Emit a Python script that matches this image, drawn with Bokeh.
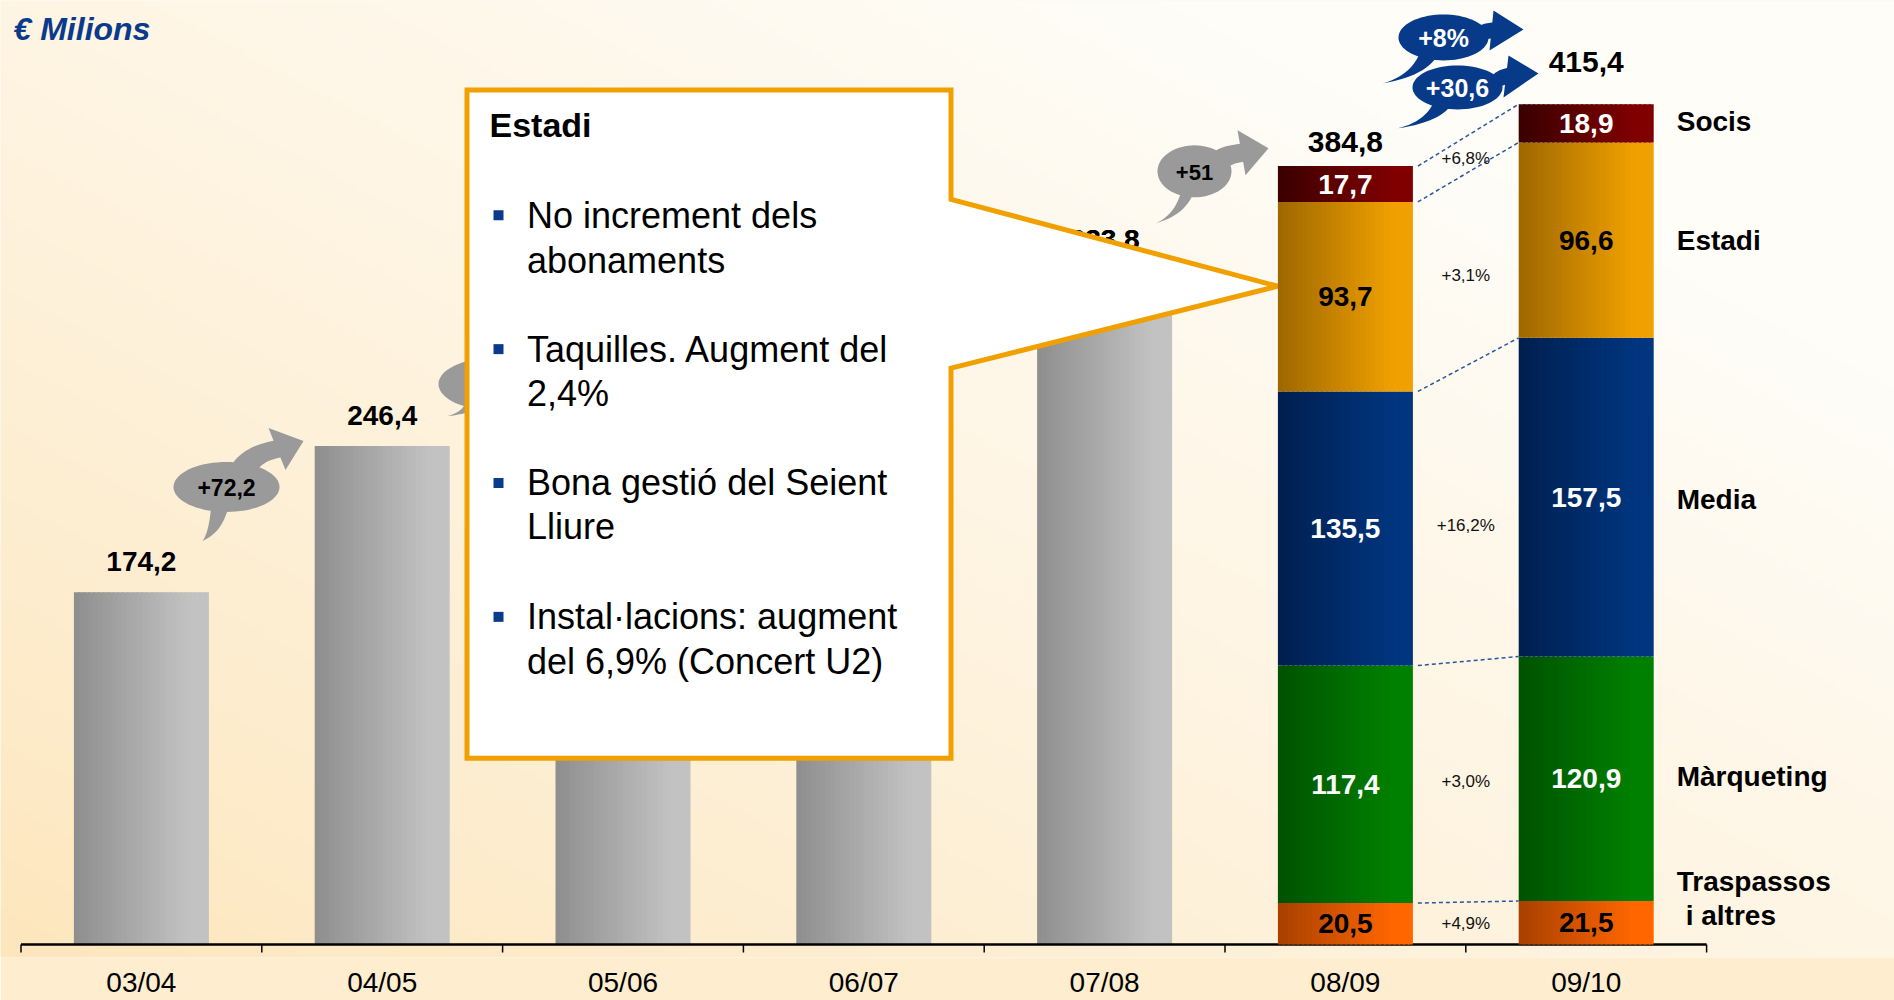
import numpy as np
from bokeh.plotting import figure
from bokeh.models import FixedTicker
from bokeh.core.properties import value
from bokeh.embed import file_html
from bokeh.resources import INLINE

# ---------------- data ----------------
seasons = ["03/04", "04/05", "05/06", "06/07", "07/08", "08/09", "09/10"]
totals = [174.2, 246.4, 291.2, 312.3, 333.8, 384.8, 415.4]
total_labels = ["174,2", "246,4", "", "", "333,8", "384,8", "415,4"]

components = ["Traspassos i altres", "Màrqueting", "Media", "Estadi", "Socis"]
comp_0809 = [20.5, 117.4, 135.5, 93.7, 17.7]
comp_0910 = [21.5, 120.9, 157.5, 96.6, 18.9]
comp_0809_labels = ["20,5", "117,4", "135,5", "93,7", "17,7"]
comp_0910_labels = ["21,5", "120,9", "157,5", "96,6", "18,9"]
comp_growth = ["+4,9%", "+3,0%", "+16,2%", "+3,1%", "+6,8%"]

bubble_labels = ["+72,2", "", "+51", "+8%", "+30,6"]

box_title = "Estadi"
box_bullets = [["No increment dels", "abonaments"],
               ["Taquilles. Augment del", "2,4%"],
               ["Bona gestió del Seient", "Lliure"],
               ["Instal·lacions: augment", "del 6,9% (Concert U2)"]]
unit_title = "€ Milions"

# ---------------- layout helpers (reference pixels -> data) ----------------
X0, SX = 20.5, 240.8      # pixel of x=0, pixels per category
Y0, SY = 945.0, 2.025     # pixel of y=0, pixels per million
W, H = 1894, 1000
FRAME_BOTTOM = 958


def ux(px):
    return (px - X0) / SX


def uy(py):
    return (Y0 - py) / SY


XS, XE = ux(0), ux(W)
YS, YE = uy(FRAME_BOTTOM), uy(0)
BW = 135.0 / SX

FONT = value("Liberation Sans")

p = figure(width=W, height=H, x_range=(XS, XE), y_range=(YS, YE),
           output_backend="svg", toolbar_location=None, y_axis_location=None,
           min_border_left=0, min_border_right=0, min_border_top=0,
           min_border_bottom=H - FRAME_BOTTOM)
p.xgrid.visible = False
p.ygrid.visible = False
p.outline_line_color = None
p.border_fill_color = "#feedcf"
p.background_fill_color = "#fef5e6"

# ---------------- background gradient ----------------
GH, GW = 160, 320
yy = np.linspace(FRAME_BOTTOM, 0, GH)
xx = np.linspace(0, W, GW)
PX, PY = np.meshgrid(xx, yy)
s = np.clip(0.62 * (PX / 1894.0) + 0.62 * (1 - PY / 1000.0), 0, 1) ** 0.85
c0 = np.array([253, 229, 186], dtype=float)
c1 = np.array([255, 253, 248], dtype=float)
rgb = c0 + (c1 - c0) * s[..., None]
img = np.empty((GH, GW), dtype=np.uint32)
view = img.view(dtype=np.uint8).reshape((GH, GW, 4))
view[..., 0:3] = rgb.astype(np.uint8)
view[..., 3] = 255
p.image_rgba(image=[img], x=XS, y=YS, dw=XE - XS, dh=YE - YS)


# ---------------- gradient bars ----------------
def h2r(h):
    return np.array([int(h[i:i + 2], 16) for i in (1, 3, 5)], dtype=float)


def mixc(a, b, f):
    c = h2r(a) + (h2r(b) - h2r(a)) * f
    return "#%02x%02x%02x" % tuple(int(round(v)) for v in c)


def grad_strips(store, xc, b, t, ca, cb, n=28):
    for k in range(n):
        l = xc - BW / 2 + BW * k / n
        r = xc - BW / 2 + BW * (k + 1.35) / n if k < n - 1 else xc + BW / 2
        f = min(1.0, (k + 0.5) / n / 0.85)
        store["left"].append(l)
        store["right"].append(r)
        store["bottom"].append(b)
        store["top"].append(t)
        store["color"].append(mixc(ca, cb, f))


gray = dict(left=[], right=[], bottom=[], top=[], color=[])
for i in range(5):
    grad_strips(gray, i + 0.5, 0, totals[i], "#8e8e8e", "#c2c2c2")
p.quad(left="left", right="right", bottom="bottom", top="top", color="color",
       line_color=None, source=gray)

# axis line and tick marks (between categories)
n_b = len(seasons) + 1
p.segment(x0=[0], y0=[0], x1=[len(seasons)], y1=[0], line_color="black", line_width=2.5)
p.segment(x0=list(range(n_b)), y0=[0] * n_b, x1=list(range(n_b)), y1=[uy(953)] * n_b,
          line_color="black", line_width=1.5)

# total labels (offset in screen px above bar top, to label centre)
gap = [-31, -31, -31, -31, -30, -24, -42]
for i in range(5):
    if total_labels[i]:
        p.text(x=[i + 0.5], y=[totals[i]], text=[total_labels[i]], y_offset=gap[i],
               text_align="center", text_baseline="middle", text_font=FONT,
               text_font_style="bold", text_font_size="28px", text_color="black")


# ---------------- bubbles with arrows ----------------
def ell_pt(cx, cy, w, h, a, k=1.0):
    r = np.radians(a)
    return np.array([cx + k * w / 2 * np.cos(r), cy + k * h / 2 * np.sin(r)])


def qcurve(p0, c, p1, n=14):
    t = np.linspace(0, 1, n)[:, None]
    return (1 - t) ** 2 * p0 + 2 * (1 - t) * t * c + t ** 2 * p1


def bubble_polys(spec):
    cx, cy = spec["c"]
    w, h = spec["w"], spec["h"]
    polys = []
    ang = np.linspace(0, 360, 73)
    polys.append(np.array([ell_pt(cx, cy, w, h, a) for a in ang]))
    a1, a2, tt = spec["tail"]
    B1 = ell_pt(cx, cy, w, h, a1, 0.85)
    B2 = ell_pt(cx, cy, w, h, a2, 0.85)
    T = np.array([cx + tt[0], cy + tt[1]])
    C1 = 0.5 * (0.5 * (B1 + T)) + 0.5 * np.array([B1[0], T[1]])
    C2 = 0.5 * (0.5 * (B2 + T)) + 0.5 * np.array([B2[0], T[1]])
    polys.append(np.vstack([qcurve(B1, C1, T), qcurve(T, C2, B2)]))
    ht, tip, hb = [np.array([cx + q[0], cy + q[1]]) for q in spec["head"]]
    b1, b2 = spec["body"]
    S1 = ell_pt(cx, cy, w, h, b1, 0.85)
    S2 = ell_pt(cx, cy, w, h, b2, 0.85)
    E1 = ht + 0.3 * (hb - ht)
    E2 = ht + 0.7 * (hb - ht)
    D1 = 0.5 * (0.5 * (S1 + E1)) + 0.5 * np.array([S1[0], E1[1]])
    D2 = 0.5 * (0.5 * (S2 + E2)) + 0.5 * np.array([S2[0], E2[1]])
    polys.append(np.vstack([qcurve(S1, D1, E1), [ht, tip, hb], qcurve(E2, D2, S2)]))
    return polys


GRAYB = "#9a9a9a"
BLUEB = "#073b8a"
bubble_specs = [
    dict(c=(226, 487), w=106, h=50, tail=(110, 88, (-24, 54)),
         head=((42, -59), (77, -46), (59, -17)), body=(-84, -48), color=GRAYB, tc="black", fs="23px"),
    dict(c=(492, 384), w=108, h=52, tail=(125, 104, (-45, 32)),
         head=((42, -59), (77, -46), (59, -17)), body=(-80, -52), color=GRAYB, tc="black", fs="23px"),
    dict(c=(1194, 171), w=74, h=52, tail=(115, 92, (-39, 52)),
         head=((43, -41), (74, -23), (51, 4)), body=(-55, -5), color=GRAYB, tc="black", fs="22px"),
    dict(c=(1443, 37), w=90, h=46, tail=(128, 100, (-61, 46)),
         head=((50, -27), (80, -8), (46, 13)), body=(-30, 25), color=BLUEB, tc="white", fs="25px"),
    dict(c=(1457, 87), w=90, h=44, tail=(128, 100, (-60, 41)),
         head=((51, -32), (81, -14), (46, 10)), body=(-30, 25), color=BLUEB, tc="white", fs="25px"),
]


def draw_bubble(i):
    spec = bubble_specs[i]
    polys = bubble_polys(spec)
    p.patches(xs=[list(ux(q[:, 0])) for q in polys], ys=[list(uy(q[:, 1])) for q in polys],
              fill_color=spec["color"], line_color=None)
    if bubble_labels[i]:
        p.text(x=[ux(spec["c"][0])], y=[uy(spec["c"][1] + 1)], text=[bubble_labels[i]],
               text_align="center", text_baseline="middle", text_font=FONT,
               text_font_style="bold", text_font_size=spec["fs"], text_color=spec["tc"])


draw_bubble(0)
draw_bubble(1)
draw_bubble(2)

# 07/08 label drawn before the callout (partially hidden by it)
p.text(x=[4.5], y=[totals[4]], text=[total_labels[4]], y_offset=gap[4],
       text_align="center", text_baseline="middle", text_font=FONT,
       text_font_style="bold", text_font_size="28px", text_color="black")

# ---------------- callout box ----------------
cb_x = [466.5, 950.5, 950.5, 1277, 950.5, 950.5, 466.5]
cb_y = [89.5, 89.5, 199, 286, 368, 758.5, 758.5]
p.patch(x=[ux(v) for v in cb_x], y=[uy(v) for v in cb_y], fill_color="white",
        line_color="#f0a000", line_width=5, line_join="miter")

p.text(x=[ux(489)], y=[uy(125)], text=[box_title], text_align="left", text_baseline="middle",
       text_font=FONT, text_font_style="bold", text_font_size="34px", text_color="black")
line_mid = [[215, 260], [349, 393], [483, 527], [617, 662]]
for lm, lines in zip(line_mid, box_bullets):
    p.scatter(x=[ux(498)], y=[uy(lm[0])], marker="square", size=10,
              fill_color="#0a3a8c", line_color=None)
    for ym, txt in zip(lm, lines):
        p.text(x=[ux(526.5)], y=[uy(ym)], text=[txt], text_align="left", text_baseline="middle",
               text_font=FONT, text_font_size="36px", text_color="black")

# ---------------- stacked bars ----------------
seg_left = ["#a84000", "#005200", "#001f4f", "#9e6700", "#3a0000"]
seg_right = ["#ff6600", "#008000", "#00357f", "#f0a000", "#800000"]
label_col = ["black", "white", "white", "black", "white"]

stk = dict(left=[], right=[], bottom=[], top=[], color=[])
mids = []
cums = []
for idx, comps in [(5, comp_0809), (6, comp_0910)]:
    cum = 0.0
    m, c = [], []
    for k, v in enumerate(comps):
        grad_strips(stk, idx + 0.5, cum, cum + v, seg_left[k], seg_right[k])
        m.append(cum + v / 2)
        cum += v
        c.append(cum)
    mids.append(m)
    cums.append(c)
p.quad(left="left", right="right", bottom="bottom", top="top", color="color",
       line_color=None, source=stk)

for idx, labs, m in [(5, comp_0809_labels, mids[0]), (6, comp_0910_labels, mids[1])]:
    for k in range(len(labs)):
        p.text(x=[idx + 0.5], y=[m[k]], text=[labs[k]], text_align="center", text_baseline="middle",
               text_font=FONT, text_font_style="bold", text_font_size="28px", text_color=label_col[k])

for i in (5, 6):
    p.text(x=[i + 0.5], y=[totals[i]], text=[total_labels[i]], y_offset=gap[i],
           text_align="center", text_baseline="middle", text_font=FONT,
           text_font_style="bold", text_font_size="30px", text_color="black")

# dashed connectors
p.segment(x0=[5.5 + BW / 2 + 5 / SX] * 5, y0=cums[0], x1=[6.5 - BW / 2] * 5, y1=cums[1],
          line_color="#2a56a0", line_width=1.5, line_dash="4 3")

# growth percentages (placed beside the 08/09 segments)
p.text(x=[6.0] * 5, y=mids[0], text=comp_growth, y_offset=[0, -3, -3, -21, -26],
       text_align="center", text_baseline="middle", text_font=FONT,
       text_font_size="17px", text_color="#111111")

# component names on the right
rx = 6.5 + BW / 2 + 23 / SX
p.text(x=[rx] * 4, y=mids[1][1:], text=components[1:], y_offset=[-2, 2, 0, -2],
       text_align="left", text_baseline="middle",
       text_font=FONT, text_font_style="bold", text_font_size="28px", text_color="black")
trasp = components[0].split(" ", 1)
p.text(x=[rx, rx], y=[mids[1][0]] * 2, text=trasp, x_offset=[0, 9], y_offset=[-41, -7],
       text_align="left", text_baseline="middle",
       text_font=FONT, text_font_style="bold", text_font_size="28px", text_color="black")

draw_bubble(3)
draw_bubble(4)

# title
p.text(x=[ux(13)], y=[uy(29)], text=[unit_title], text_align="left", text_baseline="middle",
       text_font=FONT, text_font_style="bold italic", text_font_size="32px", text_color="#0a3a8c")

# ---------------- x axis ----------------
ax = p.xaxis[0]
ax.ticker = FixedTicker(ticks=[i + 0.5 for i in range(len(seasons))], minor_ticks=[])
ax.major_label_overrides = {i + 0.5: s for i, s in enumerate(seasons)}
ax.axis_line_color = None
ax.major_tick_line_color = None
ax.minor_tick_line_color = None
ax.major_tick_out = 0
ax.major_tick_in = 0
ax.minor_tick_out = 0
ax.minor_tick_in = 0
ax.major_label_standoff = 9
ax.major_label_text_font = "Liberation Sans"
ax.major_label_text_font_size = "28px"
ax.major_label_text_color = "black"

open("out.html", "w").write(file_html(p, INLINE))
